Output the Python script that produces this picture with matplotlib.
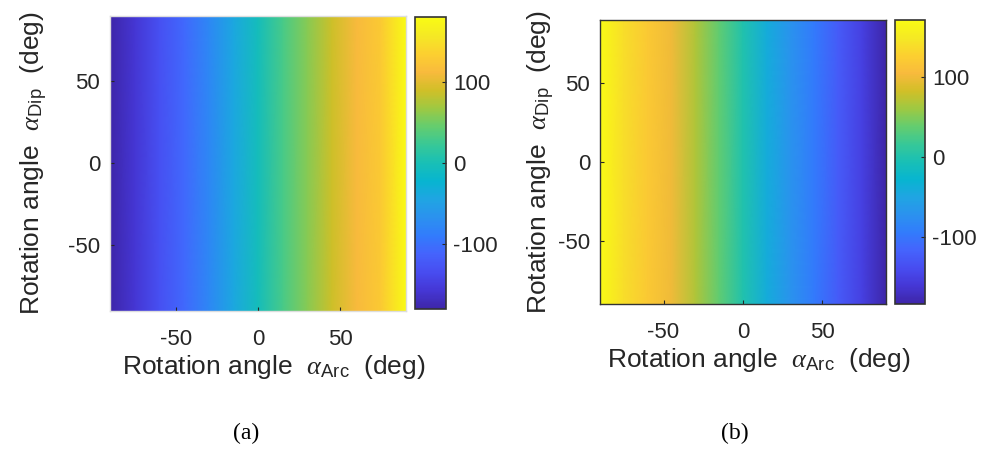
import numpy as np
import matplotlib
matplotlib.use("Agg")
import matplotlib.pyplot as plt
from matplotlib.colors import LinearSegmentedColormap

plt.rcParams["font.family"] = ["Liberation Sans", "DejaVu Sans"]
plt.rcParams["mathtext.fontset"] = "custom"
plt.rcParams["mathtext.rm"] = "Liberation Sans"
plt.rcParams["mathtext.it"] = "Liberation Serif:italic"
plt.rcParams["axes.unicode_minus"] = False

# ------------------------------------------------
# Data (values vary along alpha_Arc only)
# ------------------------------------------------
alpha_arc = [-90, -75, -60, -45, -30, -15, 0, 15, 30, 45, 60, 75, 90]
alpha_dip = [-90, 90]

values_a = [-180, -158, -132, -108, -78, -42, -5, 30, 58, 88, 112, 128, 180]
values_b = [172, 140, 120, 100, 68, 36, 0, -40, -70, -96, -125, -152, -184]

xticks = [-50, 0, 50]
yticks = [-50, 0, 50]
cbar_ticks = [-100, 0, 100]

# MATLAB parula (R2014a), every 4th entry
parula_colors = [
    (0.2422, 0.1504, 0.6603), (0.2706, 0.2147, 0.8364), (0.2813, 0.3006, 0.9414),
    (0.2699, 0.3892, 0.9906), (0.1963, 0.4847, 0.9892), (0.1687, 0.5703, 0.9359),
    (0.1248, 0.6459, 0.8883), (0.0297, 0.7082, 0.8163), (0.0964, 0.7500, 0.7120),
    (0.2161, 0.7843, 0.5923), (0.3909, 0.8029, 0.4354), (0.6174, 0.7876, 0.2612),
    (0.8203, 0.7498, 0.1535), (0.9728, 0.7298, 0.2394), (0.9892, 0.8136, 0.1885),
    (0.9597, 0.9135, 0.1423), (0.9769, 0.9839, 0.0805),
]
parula = LinearSegmentedColormap.from_list("parula", parula_colors)

TEXT = "#262626"

fig = plt.figure(figsize=(9.81, 4.54), dpi=100)

panels = [
    # values, axes rect, colorbar rect, spine colour, ylabel pad, tag, tag x
    (values_a, [0.1121, 0.315, 0.3017, 0.650], [0.4230, 0.3194, 0.0316, 0.643], "#dddddd", 13, "(a)", 0.251),
    (values_b, [0.6116, 0.330, 0.2915, 0.626], [0.9123, 0.3304, 0.0306, 0.626], "#333333", 1, "(b)", 0.749),
]

for vals, ax_rect, cb_rect, spine_col, ypad, tag, tag_x in panels:
    ax = fig.add_axes(ax_rect)
    cax = fig.add_axes(cb_rect)

    X, Y = np.meshgrid(alpha_arc, alpha_dip)
    C = np.tile(vals, (len(alpha_dip), 1))
    mesh = ax.pcolormesh(X, Y, C, cmap=parula, shading="gouraud",
                         vmin=min(vals), vmax=max(vals))

    ax.set_xlim(-90, 90)
    ax.set_ylim(-90, 90)
    ax.set_xticks(xticks)
    ax.set_yticks(yticks)
    ax.tick_params(direction="in", length=3, labelsize=16, colors=TEXT)
    ax.tick_params(axis="x", pad=13)
    ax.tick_params(axis="y", pad=7)
    for s in ax.spines.values():
        s.set_color(spine_col)
        s.set_linewidth(1.0)

    ax.set_xlabel(r"Rotation angle  $\alpha_{\mathrm{Arc}}$  (deg)", fontsize=19, color=TEXT, labelpad=2)
    ax.xaxis.label.set_x(0.555)
    ax.set_ylabel(r"Rotation angle  $\alpha_{\mathrm{Dip}}$  (deg)", fontsize=19, color=TEXT, labelpad=ypad)

    cb = fig.colorbar(mesh, cax=cax)
    cb.set_ticks(cbar_ticks)
    cb.outline.set_edgecolor("#333333")
    cb.outline.set_linewidth(1.2)
    cax.tick_params(direction="in", length=3, labelsize=16, colors=TEXT, pad=5)

    fig.text(tag_x, 0.045, tag, ha="center", va="center", fontsize=17,
             family="Liberation Serif", color="black")

plt.savefig("out.png", dpi=100)
